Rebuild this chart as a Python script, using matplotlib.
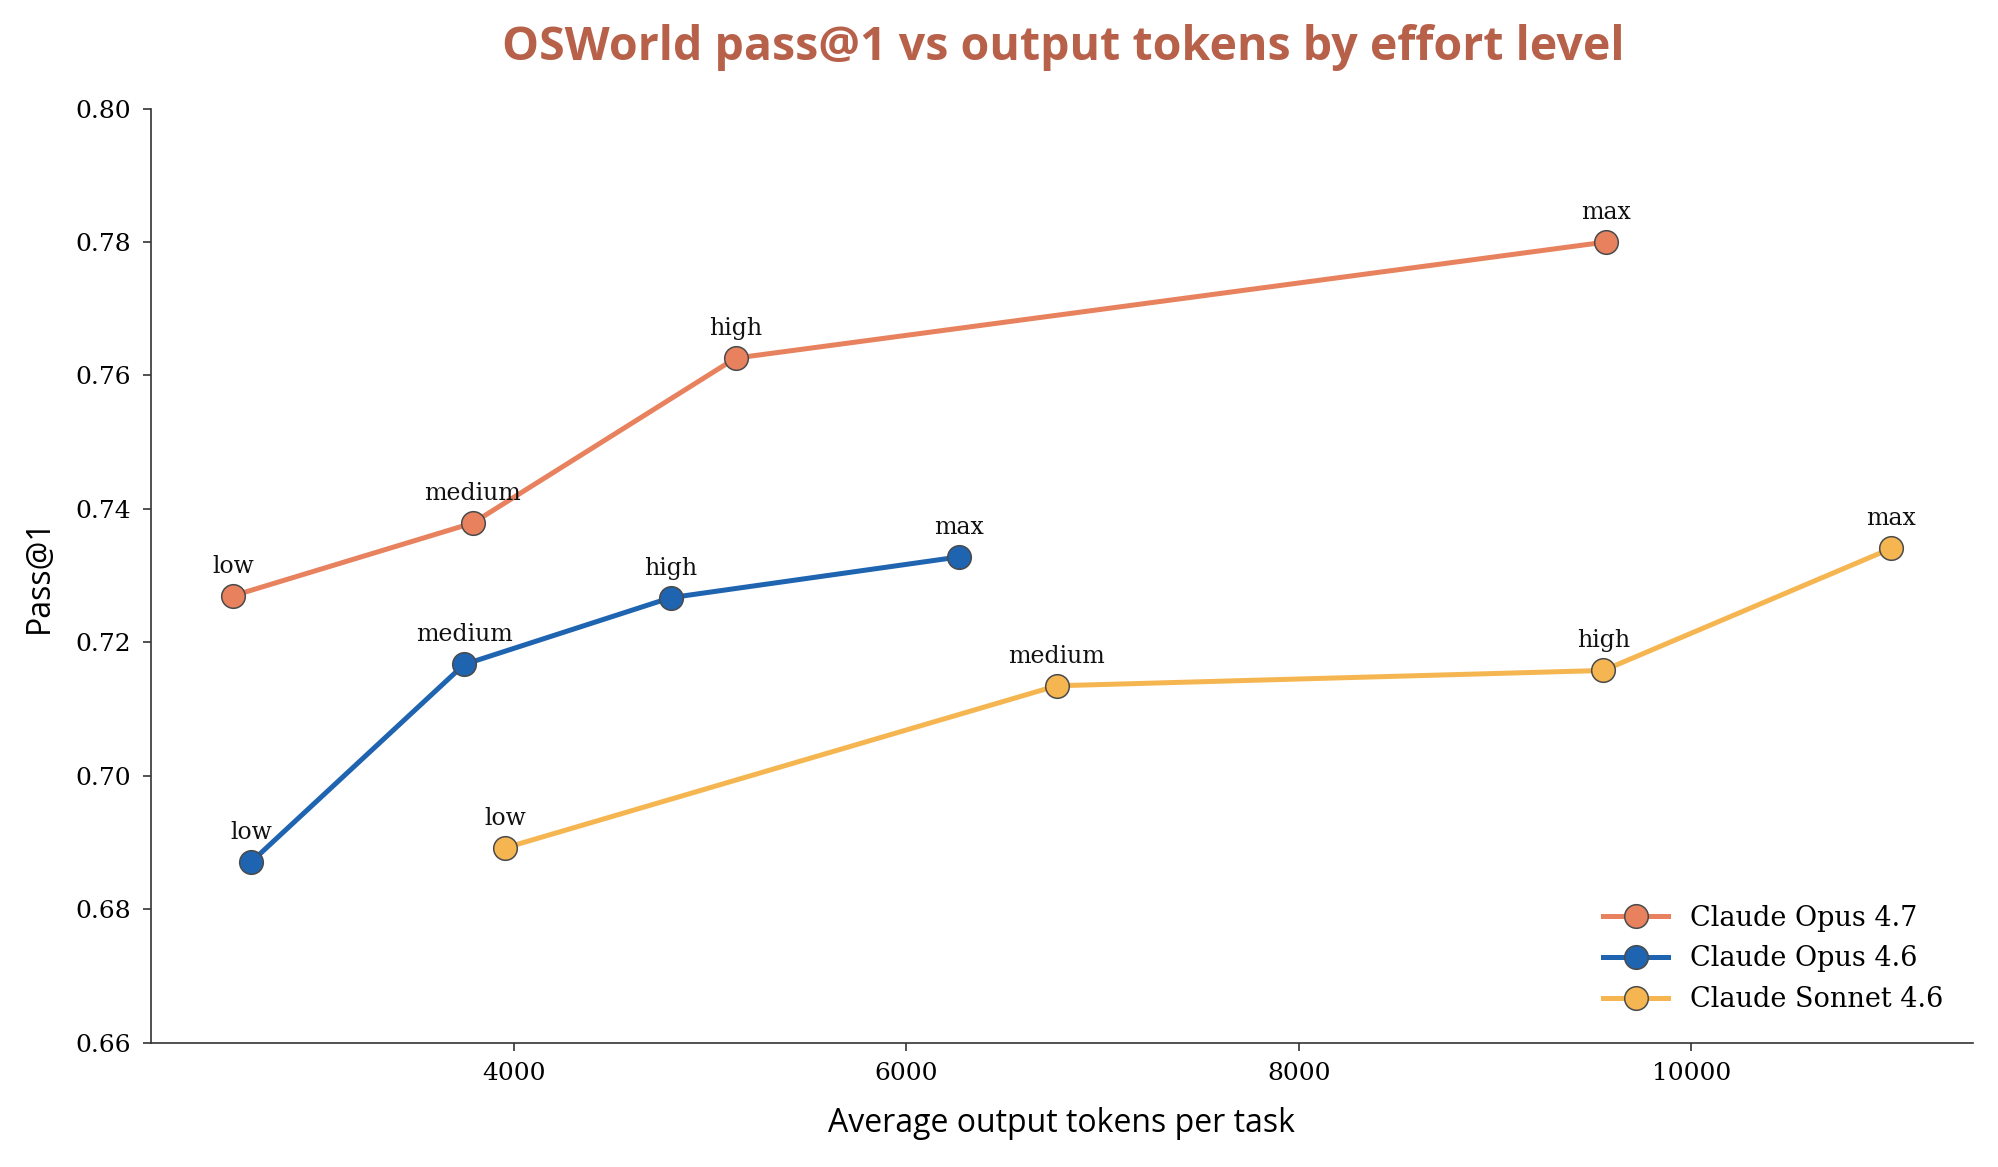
import matplotlib
matplotlib.use("Agg")
import matplotlib.pyplot as plt

# effort levels and readings per model
levels = ["low", "medium", "high", "max"]

opus47_tokens = [2571, 3792, 5130, 9565]
opus47_pass = [0.7270, 0.7379, 0.7626, 0.7800]

opus46_tokens = [2662, 3747, 4799, 6266]
opus46_pass = [0.6871, 0.7167, 0.7267, 0.7328]

sonnet46_tokens = [3955, 6766, 9552, 11019]
sonnet46_pass = [0.6892, 0.7135, 0.7158, 0.7341]

models = ["Claude Opus 4.7", "Claude Opus 4.6", "Claude Sonnet 4.6"]
colors = ["#E8825E", "#1F64B0", "#F5B651"]

serif = "DejaVu Serif"
sans = "Open Sans"

fig = plt.figure(figsize=(19.99, 11.67), dpi=100)
ax = fig.add_axes([0.0753, 0.1064, 0.9117, 0.8006])

series = [(opus47_tokens, opus47_pass), (opus46_tokens, opus46_pass),
          (sonnet46_tokens, sonnet46_pass)]
for (xs, ys), name, c in zip(series, models, colors):
    ax.plot(xs, ys, color=c, lw=3.6, marker="o", markersize=17,
            markerfacecolor=c, markeredgecolor="#4a4a4a", markeredgewidth=1.1,
            label=name, zorder=3)
    for x, y, lab in zip(xs, ys, levels):
        ax.annotate(lab, (x, y), xytext=(0, 13), textcoords="offset points",
                    ha="center", va="bottom", fontsize=17, family=serif,
                    color="#111111")

ax.set_xlim(2149, 11435)
ax.set_ylim(0.66, 0.80)
ax.set_xticks([4000, 6000, 8000, 10000])
ax.set_yticks([0.66, 0.68, 0.70, 0.72, 0.74, 0.76, 0.78, 0.80])
ax.set_yticklabels(["%.2f" % v for v in ax.get_yticks()])

for lbl in ax.get_xticklabels() + ax.get_yticklabels():
    lbl.set_fontfamily(serif)
    lbl.set_fontsize(18)
ax.tick_params(length=6, width=1.2, color="#333333", pad=8)

ax.spines["top"].set_visible(False)
ax.spines["right"].set_visible(False)
for s in ["left", "bottom"]:
    ax.spines[s].set_color("#333333")
    ax.spines[s].set_linewidth(1.2)

ax.set_xlabel("Average output tokens per task", fontsize=23, family=sans,
              labelpad=16)
ax.set_ylabel("Pass@1", fontsize=23, family=sans, labelpad=14)

fig.text(0.532, 0.959, "OSWorld pass@1 vs output tokens by effort level",
         ha="center", va="center", fontsize=33.5, fontweight="bold",
         family=sans, color="#B8614A")

leg = ax.legend(loc="lower right", frameon=False, prop={"family": serif, "size": 19.5},
                handlelength=2.4, borderaxespad=0.7, labelspacing=0.5)

fig.savefig("out.png", dpi=100)
